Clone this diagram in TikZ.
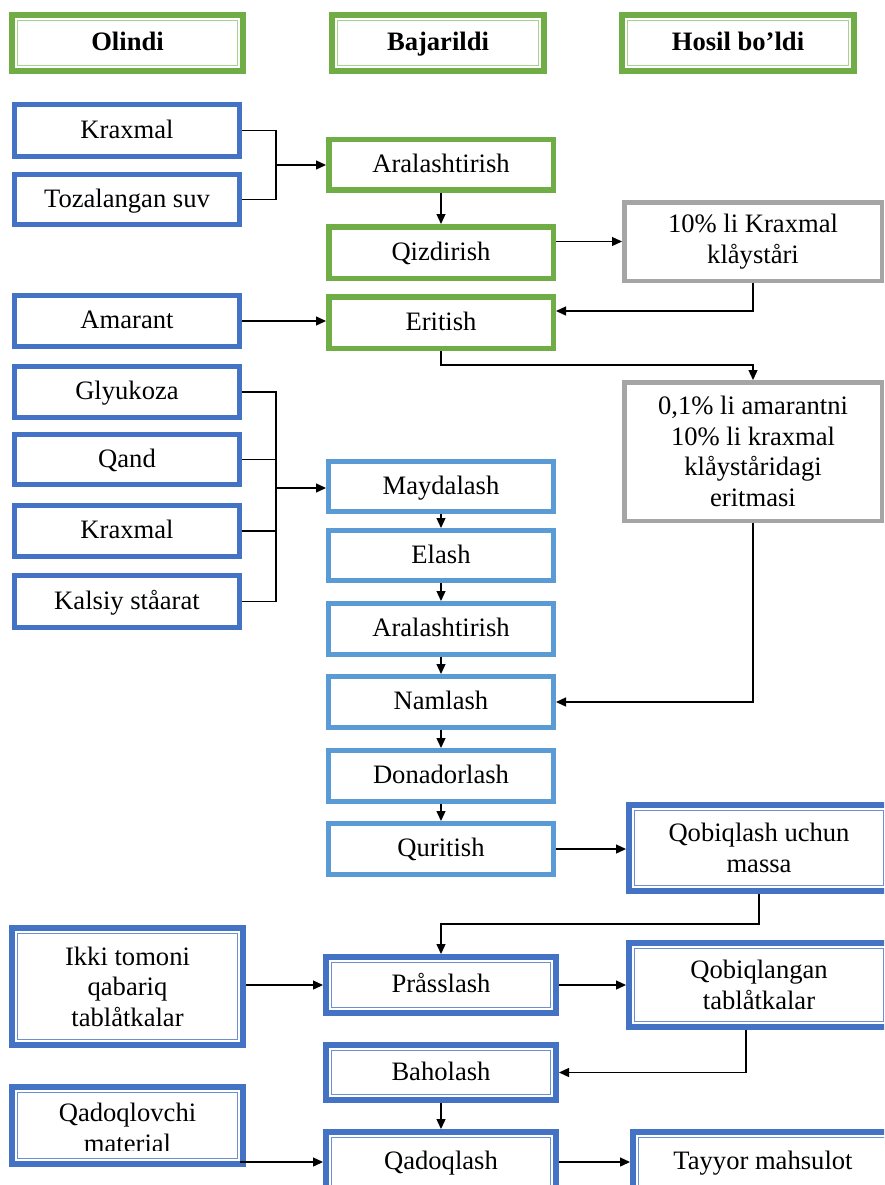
\documentclass[tikz,border=0pt]{standalone}
\usepackage{fontspec}
\setmainfont{Liberation Serif}
\usetikzlibrary{arrows.meta}

\definecolor{grn}{HTML}{70AD47}
\definecolor{grnlt}{HTML}{A9D18E}
\definecolor{blu}{HTML}{4472C4}
\definecolor{blult}{HTML}{6A8FD3}
\definecolor{sky}{HTML}{5B9BD5}
\definecolor{gry}{HTML}{A5A5A5}

\tikzset{
  sz/.style 2 args={minimum width=#1pt, minimum height=#2pt},
  box/.style={draw, fill=white, inner sep=0pt, align=center,
    text height=18.6pt, text depth=3.5pt},
  ml/.style={text height=, text depth=},
  inbox/.style={box, draw=blu, line width=4.7pt},
  gbox/.style={box, draw=grn, line width=5.5pt},
  sbox/.style={box, draw=sky, line width=4.7pt},
  graybox/.style={box, ml, draw=gry, line width=4.5pt},
  twin/.style 2 args={box, draw=#1, line width=6pt,
    path picture={\draw[#2, line width=1.3pt]
      ([shift={(5.2pt,-5.2pt)}]path picture bounding box.north west) rectangle
      ([shift={(-5.2pt,5.2pt)}]path picture bounding box.south east);}},
  hdr/.style={twin={grn}{grnlt}, font=\fontsize{26.6}{30.5}\selectfont\bfseries},
  dbl/.style={twin={blu}{blult}},
  txt/.style={inner sep=0pt, align=center},
  ln/.style={line width=1.3pt},
  arr/.style={ln, -{Triangle[length=10pt,width=9pt]}},
}

\begin{document}
\begin{tikzpicture}[x=1pt, y=-1pt, font=\fontsize{26.6}{30.5}\selectfont, line join=miter]
\clip (0,0) rectangle (884,1185);
\fill[white] (0,0) rectangle (884,1185);

% column headers
\node[hdr, sz={231}{56}] (h1) at (127.5,43) {Olindi};
\node[hdr, sz={212}{56}] (h2) at (438,43) {Bajarildi};
\node[hdr, sz={232}{56}] (h3) at (738,43) {Hosil bo’ldi};

% raw materials
\node[inbox, sz={225.3}{52.3}] (kr1) at (127,130.5) {Kraxmal};
\node[inbox, sz={225.3}{50.3}] (suv) at (127,199.5) {Tozalangan suv};
\node[inbox, sz={225.3}{51.3}] (am)  at (127,321) {Amarant};
\node[inbox, sz={225.3}{51.3}] (gl)  at (127,392) {Glyukoza};
\node[inbox, sz={225.3}{50.3}] (qa)  at (127,459.5) {Qand};
\node[inbox, sz={225.3}{51.3}] (kr2) at (127,531) {Kraxmal};
\node[inbox, sz={225.3}{52.3}] (ka)  at (127,601.5) {Kalsiy ståarat};

% paste preparation
\node[gbox, sz={224.5}{50.5}] (ar1) at (441,165) {Aralashtirish};
\node[gbox, sz={224.5}{51.5}] (qiz) at (441,252.5) {Qizdirish};
\node[gbox, sz={224.5}{51.5}] (er)  at (441,322.5) {Eritish};

% intermediate products
\node[graybox, sz={257.5}{78.5}] (kl) at (753,241.5) {10\% li Kraxmal\\klåyståri};
\node[graybox, sz={257.5}{138.5}] (gr2) at (753,451.5)
  {0,1\% li amarantni\\10\% li kraxmal\\klåyståridagi\\eritmasi};

% granulation line
\node[sbox, sz={225.3}{50.3}] (ma)  at (441,486.5) {Maydalash};
\node[sbox, sz={225.3}{50.3}] (el)  at (441,555.5) {Elash};
\node[sbox, sz={225.3}{51.3}] (ar2) at (441,629) {Aralashtirish};
\node[sbox, sz={225.3}{51.3}] (na)  at (441,702) {Namlash};
\node[sbox, sz={225.3}{51.3}] (do)  at (441,776) {Donadorlash};
\node[sbox, sz={225.3}{51.3}] (qu)  at (441,849) {Quritish};

% coating and packing
\node[dbl, ml, sz={260}{86}]  (qm) at (759,848) {Qobiqlash uchun\\massa};
\node[dbl, ml, sz={231}{117}] (ik) at (127.5,986.5) {Ikki tomoni\\qabariq\\tablåtkalar};
\node[dbl, sz={230}{56}]  (pr) at (441,985) {Pråsslash};
\node[dbl, ml, sz={260}{84}]  (qt) at (759,985) {Qobiqlangan\\tablåtkalar};
\node[dbl, sz={230}{55}]  (ba) at (441,1072.5) {Baholash};
\node[dbl, sz={230}{60}]  (qd) at (441,1162) {Qadoqlash};
\node[dbl, sz={231}{77}]  (qv) at (127.5,1125.5) {};
\node[dbl, sz={260}{60}]  (ty) at (763,1162) {Tayyor mahsulot};
\begin{scope}
  \clip (14,1090) rectangle (241,1150);
  \node[txt] (qvt) at (127.5,1128) {Qadoqlovchi\\material};
\end{scope}

% connectors: paste
\coordinate (j1) at (276,165);
\draw[ln] (kr1.east) -| (j1);
\draw[ln] (suv.east) -| (j1);
\draw[arr] (j1) -- (ar1.west);
\draw[arr] (ar1.south) -- (qiz.north);
\draw[arr] (qiz.east |- kl.west) -- (kl.west);
\draw[arr] (kl.south) |- ([yshift=11.5pt]er.east);
\draw[arr] (am.east) -- (am.east -| er.west);
\coordinate (e2) at (753,365);
\draw[arr] (er.south) |- (e2) -- (gr2.north);
\draw[arr] (gr2.south) |- (na.east);

% connectors: granulation
\coordinate (j2) at (276,488);
\foreach \s in {gl,qa,kr2,ka} \draw[ln] (\s.east) -| (j2);
\draw[arr] (j2) -- (j2 -| ma.west);
\foreach \a/\b in {ma/el, el/ar2, ar2/na, na/do, do/qu}
  \draw[arr] (\a.south) -- (\b.north);
\draw[arr] (qu.east) -- (qu.east -| qm.west);

% connectors: coating and packing
\coordinate (m2) at (441,924);
\draw[arr] (qm.south) |- (m2) -- (pr.north);
\draw[arr] (ik.east |- pr.west) -- (pr.west);
\draw[arr] (pr.east) -- (pr.east -| qt.west);
\draw[arr] ([xshift=-13pt]qt.south) |- (ba.east);
\draw[arr] (ba.south) -- (qd.north);
\draw[arr] ([xshift=-6pt]qv.east |- qd.west) -- (qd.west);
\draw[arr] (qd.east) -- (qd.east -| ty.west);
\end{tikzpicture}
\end{document}
